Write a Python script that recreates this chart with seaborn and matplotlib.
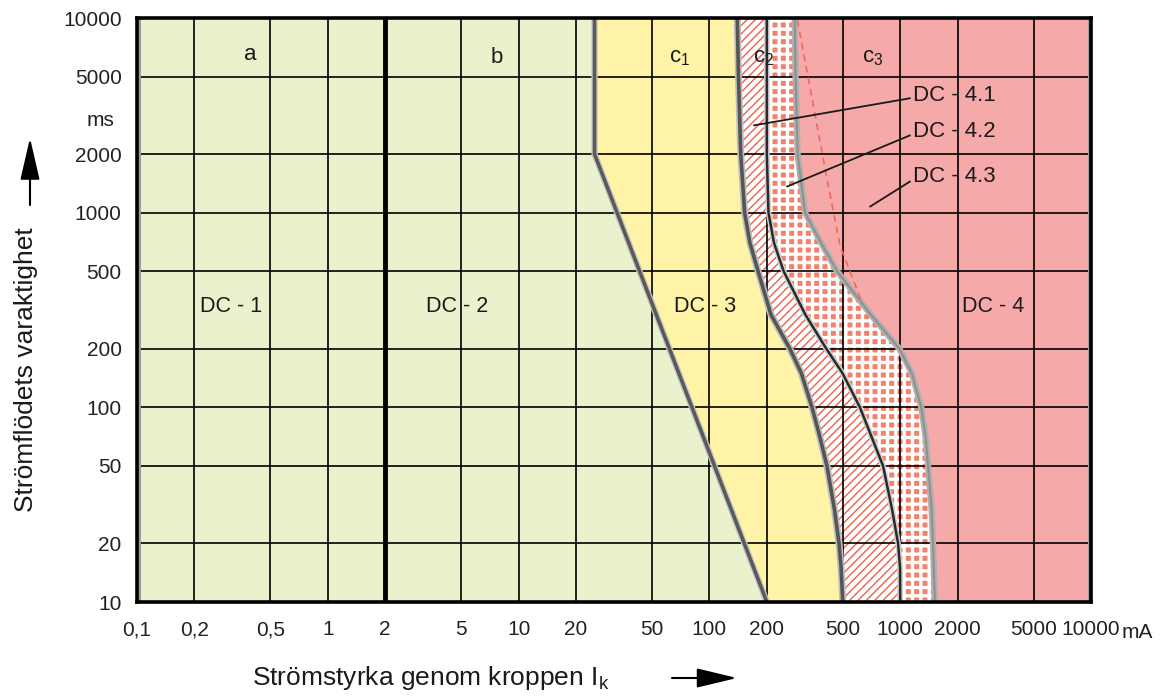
import numpy as np
import pandas as pd
import matplotlib
matplotlib.use('Agg')
import matplotlib.pyplot as plt
import seaborn as sns

# ---------------- data ----------------
x_ticks = [0.1, 0.2, 0.5, 1, 2, 5, 10, 20, 50, 100, 200, 500, 1000, 2000, 5000, 10000]
x_tick_labels = ['0,1', '0,2', '0,5', '1', '2', '5', '10', '20', '50', '100', '200',
                 '500', '1000', '2000', '5000', '10000']
y_ticks = [10, 20, 50, 100, 200, 500, 1000, 2000, 5000, 10000]
y_tick_labels = [str(v) for v in y_ticks]

boundary_ab = 2  # mA, line between zones a and b

curve_b_time = [10, 2000, 10000]
curve_b_current = [200, 25, 25]

curve_time = [10, 15, 20, 30, 50, 70, 100, 150, 200, 300, 500, 700, 1000, 2000, 5000, 10000]
curve_c1 = [500, 490, 478, 452, 413, 380, 345, 303, 264, 210, 180, 163, 153, 146, 142, 140]
curve_c2 = [1000, 998, 975, 906, 813, 710, 615, 498, 410, 318, 245, 218, 204, 200, 200, 200]
curve_c3 = [1520, 1500, 1486, 1460, 1400, 1360, 1290, 1150, 990, 700, 467, 385, 317, 290, 283, 280]

dashed_time = [360, 676, 1497, 10000]
dashed_current = [620, 484, 413, 288]

zone_labels = ['DC - 1', 'DC - 2', 'DC - 3', 'DC - 4']
zone_label_x = [0.31, 4.75, 95, 3060]
zone_label_y = [328, 328, 328, 328]

curve_labels = ['a', 'b', r'$\mathregular{c_1}$', r'$\mathregular{c_2}$', r'$\mathregular{c_3}$']
curve_label_x = [0.39, 7.7, 70, 193, 720]
curve_label_y = [6500, 6300, 6300, 6300, 6300]

sub_labels = ['DC - 4.1', 'DC - 4.2', 'DC - 4.3']
sub_label_x = [1170, 1170, 1170]
sub_label_y = [4000, 2600, 1530]
leader_x0 = [1125, 1125, 1125]
leader_y0 = [3870, 2495, 1445]
leader_x1 = [171, 255, 695]
leader_y1 = [2808, 1362, 1074]

GREEN = '#E9F1CD'
YELLOW = '#FFF3A8'
PINK = '#F5A9A9'
HATCH_RED = '#F0604C'
SQUARE = '#F3806C'

# ---------------- plot ----------------
sns.set_theme(style='white')
plt.rcParams['font.family'] = ['Liberation Sans', 'DejaVu Sans']
plt.rcParams['mathtext.default'] = 'regular'

fig = plt.figure(figsize=(11.64, 6.98), dpi=100)
ax = fig.add_axes([137 / 1164, 1 - 602 / 698, 954 / 1164, 584 / 698])
ax.set_xscale('log')
ax.set_yscale('log')
ax.set_xlim(x_ticks[0], x_ticks[-1])
ax.set_ylim(y_ticks[0], y_ticks[-1])
ax.set_facecolor(GREEN)

# DC-3 zone
ax.fill(np.r_[curve_b_current, curve_c1[::-1]], np.r_[curve_b_time, curve_time[::-1]],
        facecolor=YELLOW, lw=0, zorder=1)
# DC-4.1 zone (hatched)
p41 = ax.fill(np.r_[curve_c1, curve_c2[::-1]], np.r_[curve_time, curve_time[::-1]],
              facecolor='white', edgecolor=HATCH_RED, hatch='////', lw=0, zorder=1)[0]
# DC-4.2 zone (squares)
p42 = ax.fill(np.r_[curve_c2, curve_c3[::-1]], np.r_[curve_time, curve_time[::-1]],
              facecolor=SQUARE, edgecolor='white', hatch='++', lw=0, zorder=1)[0]
if hasattr(p41, 'set_hatch_linewidth'):
    p41.set_hatch_linewidth(1.0)
    p42.set_hatch_linewidth(2.4)
# DC-4.3 / DC-4 zone
ax.fill_betweenx(curve_time, curve_c3, x_ticks[-1], color=PINK, lw=0, zorder=1)

# grid
ax.set_xticks(x_ticks, x_tick_labels)
ax.set_yticks(y_ticks, y_tick_labels)
ax.minorticks_off()
ax.grid(True, which='major', color='black', lw=1.2)
ax.set_axisbelow(False)
ax.tick_params(axis='both', length=0, labelsize=15, colors='#222222')
ax.tick_params(axis='x', pad=13)
ax.tick_params(axis='y', pad=11)

# curves
df_b = pd.DataFrame({'current': curve_b_current, 'time': curve_b_time})
df_c1 = pd.DataFrame({'current': curve_c1, 'time': curve_time})
df_c2 = pd.DataFrame({'current': curve_c2, 'time': curve_time})
df_c3 = pd.DataFrame({'current': curve_c3, 'time': curve_time})
df_d = pd.DataFrame({'current': dashed_current, 'time': dashed_time})

for df, halo_w, halo_c, core_w, core_c in [
        (df_b, 4.5, '#c4c4c4', 2.6, '#5a5a5a'),
        (df_c1, 5, '#bdbdbd', 2.6, '#555555'),
        (df_c2, 4, '#cfcfcf', 1.8, '#2a2a2a'),
        (df_c3, 4.5, '#b0b0b0', 1.5, '#909090')]:
    sns.lineplot(data=df, x='current', y='time', sort=False, estimator=None,
                 color=halo_c, lw=halo_w, ax=ax, zorder=3)
    sns.lineplot(data=df, x='current', y='time', sort=False, estimator=None,
                 color=core_c, lw=core_w, ax=ax, zorder=4)

sns.lineplot(data=df_d, x='current', y='time', sort=False, estimator=None,
             color='#EE6A5A', lw=1.2, linestyle=(0, (4, 3)), ax=ax, zorder=3)

ax.axvline(boundary_ab, color='black', lw=3.5, zorder=4)
ax.axvline(x_ticks[0], color='#9a9a9a', lw=5, zorder=4)
ax.axvline(x_ticks[-1], color='#9a9a9a', lw=5, zorder=4)

for s in ax.spines.values():
    s.set_visible(True)
    s.set_color('black')
    s.set_linewidth(2.6)
    s.set_zorder(6)

ax.set_xlabel('')
ax.set_ylabel('')

# labels
for t, x, y in zip(zone_labels, zone_label_x, zone_label_y):
    ax.text(x, y, t, ha='center', va='center', fontsize=15.5, color='#1a1a1a', zorder=7)
for t, x, y in zip(curve_labels, curve_label_x, curve_label_y):
    ax.text(x, y, t, ha='center', va='center', fontsize=16, color='#1a1a1a', zorder=7)
for t, x, y in zip(sub_labels, sub_label_x, sub_label_y):
    ax.text(x, y, t, ha='left', va='center', fontsize=16, color='#1a1a1a', zorder=7)
for x0, y0, x1, y1 in zip(leader_x0, leader_y0, leader_x1, leader_y1):
    ax.plot([x0, x1], [y0, y1], color='#1a1a1a', lw=1.3, zorder=7)

fig.text(100 / 1164, 1 - 120 / 698, 'ms', ha='center', va='center', fontsize=15, color='#222222')
fig.text(1122 / 1164, 1 - 632 / 698, 'mA', ha='left', va='center', fontsize=15, color='#222222')

fig.text(252 / 1164, 1 - 685 / 698, r'Strömstyrka genom kroppen $\mathregular{I_k}$',
         ha='left', va='baseline', fontsize=19, color='#1a1a1a')
fig.text(26 / 1164, 1 - 370 / 698, 'Strömflödets varaktighet', rotation=90,
         ha='center', va='center', fontsize=19, color='#1a1a1a')

ax.annotate('', xy=(30, 698 - 138), xytext=(30, 698 - 205),
            xycoords='figure pixels', textcoords='figure pixels',
            arrowprops=dict(arrowstyle='-|>,head_length=2.6,head_width=0.6',
                            color='black', lw=1.5, mutation_scale=10,
                            shrinkA=0, shrinkB=0))
ax.annotate('', xy=(737, 698 - 678), xytext=(672, 698 - 678),
            xycoords='figure pixels', textcoords='figure pixels',
            arrowprops=dict(arrowstyle='-|>,head_length=2.5,head_width=0.6',
                            color='black', lw=1.5, mutation_scale=10,
                            shrinkA=0, shrinkB=0))

fig.savefig('out.png', dpi=100)
